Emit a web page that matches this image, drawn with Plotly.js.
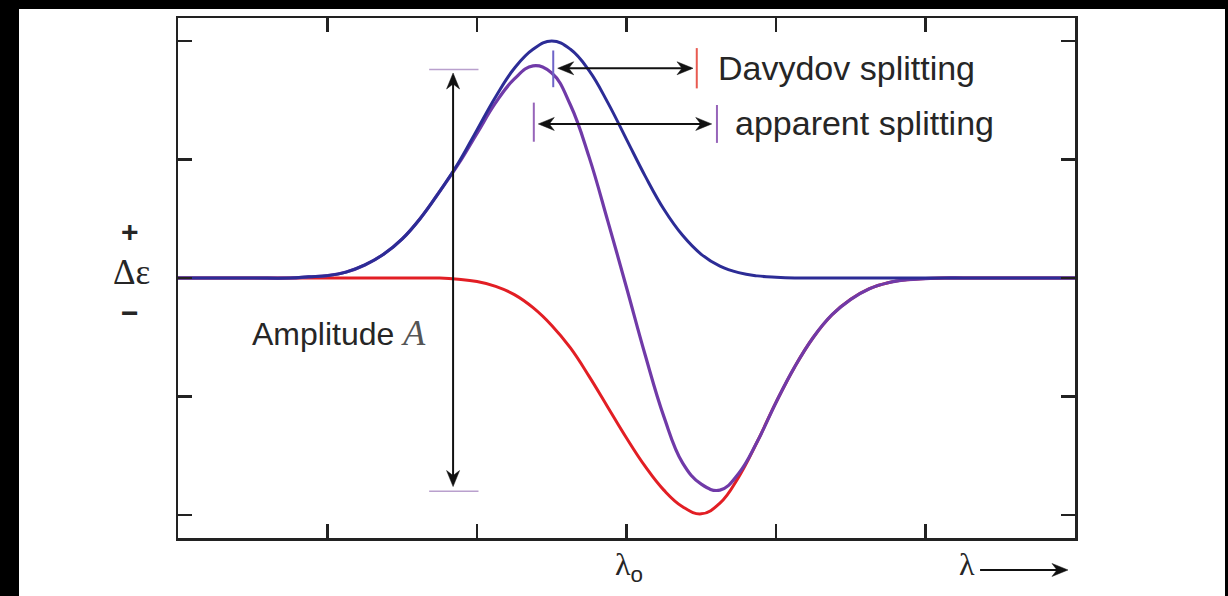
<!DOCTYPE html>
<html>
<head>
<meta charset="utf-8">
<script src="https://cdn.plot.ly/plotly-3.0.1.min.js"></script>
<style>
  html, body { margin: 0; padding: 0; background: #000; width: 1228px; height: 596px; overflow: hidden; }
  #chart { position: absolute; left: 19px; top: 9px; width: 1206px; height: 587px; background: #fff; }
</style>
</head>
<body>
<div id="chart"></div>
<script>
// Wavelength grid (arbitrary units, λ0 at 3)
const lambda = [0, 0.25, 0.5, 0.75, 0.875, 1.0, 1.125, 1.25, 1.375, 1.5, 1.625, 1.75, 1.875, 2.0,
  2.125, 2.25, 2.375, 2.5, 2.625, 2.75, 2.875, 3.0, 3.125, 3.25, 3.375, 3.5, 3.625, 3.75, 3.875,
  4.0, 4.125, 4.25, 4.375, 4.5, 4.625, 4.75, 4.875, 5.0, 5.125, 5.25, 5.5, 5.75, 6.0];

// Positive exciton band
const bandPlus = [0, 0, 0, 0, 0.01, 0.02, 0.05, 0.11, 0.2, 0.33, 0.51, 0.73, 0.97, 1.25,
  1.53, 1.77, 1.93, 2.0, 1.93, 1.75, 1.48, 1.17, 0.86, 0.58, 0.36, 0.2, 0.1, 0.045, 0.018,
  0.006, 0, 0, 0, 0, 0, 0, 0, 0, 0, 0, 0, 0, 0];

// Negative exciton band
const bandMinus = [0, 0, 0, 0, 0, 0, 0, 0, 0, 0, 0, 0, -0.01, -0.03,
  -0.07, -0.14, -0.25, -0.4, -0.59, -0.83, -1.09, -1.35, -1.59, -1.79, -1.93, -1.99, -1.9, -1.68, -1.38,
  -1.05, -0.75, -0.5, -0.31, -0.18, -0.09, -0.04, -0.015, -0.005, 0, 0, 0, 0, 0];

// Observed couplet
const couplet = [0, 0, 0, 0, 0.01, 0.02, 0.05, 0.11, 0.2, 0.33, 0.51, 0.73, 0.96, 1.22,
  1.48, 1.68, 1.79, 1.73, 1.46, 1.02, 0.48, -0.08, -0.65, -1.17, -1.56, -1.74, -1.79, -1.65, -1.38,
  -1.05, -0.75, -0.5, -0.31, -0.18, -0.09, -0.04, -0.015, -0.005, 0, 0, 0, 0, 0];

// Band extrema and couplet extrema (λ, Δε)
const plusPeakX = 2.51, minusPeakX = 3.47;
const coupletMaxX = 2.38, coupletMinX = 3.605;
const coupletMax = 1.76, coupletMin = -1.8;

const lambdaTicks = [1, 2, 3, 4, 5];
const epsTicks = [-2, -1, 0, 1, 2];

const ink = '#262626';
const arrowInk = '#111';
const cBlue = 'rgb(44,44,150)';
const cRed = 'rgb(226,30,36)';
const cPurple = 'rgb(112,58,168)';

const traces = [
  { x: lambda, y: bandMinus, mode: 'lines', line: { color: cRed, width: 3, shape: 'spline', smoothing: 1.2 }, hoverinfo: 'skip' },
  { x: lambda, y: couplet, mode: 'lines', line: { color: cPurple, width: 3.2, shape: 'spline', smoothing: 1.2 }, hoverinfo: 'skip' },
  { x: lambda, y: bandPlus, mode: 'lines', line: { color: cBlue, width: 3, shape: 'spline', smoothing: 1.2 }, hoverinfo: 'skip' }
];

function vtick(x, y0, y1, color) {
  return { type: 'line', xref: 'x', yref: 'y', x0: x, x1: x, y0: y0, y1: y1, line: { color: color, width: 2 } };
}
function hmark(y, x0, x1) {
  return { type: 'line', xref: 'x', yref: 'y', x0: x0, x1: x1, y0: y, y1: y, line: { color: 'rgb(185,160,205)', width: 1.5 } };
}

// Notched arrowhead, sized in screen pixels, tip anchored at (x, y)
const headPaths = {
  right: 'M0,0 L-16,6.5 L-11,0 L-16,-6.5 Z',
  left: 'M0,0 L16,6.5 L11,0 L16,-6.5 Z',
  up: 'M0,0 L-6.5,-16 L0,-11 L6.5,-16 Z',
  down: 'M0,0 L-6.5,16 L0,11 L6.5,16 Z'
};
function head(x, y, dir, yref) {
  return { type: 'path', xref: 'x', yref: yref || 'y', xsizemode: 'pixel', ysizemode: 'pixel',
    xanchor: x, yanchor: y, path: headPaths[dir], fillcolor: arrowInk, line: { color: arrowInk, width: 0.5 } };
}
function shaft(x0, y0, x1, y1, yref) {
  return { type: 'line', xref: 'x', yref: yref || 'y', x0: x0, y0: y0, x1: x1, y1: y1, line: { color: arrowInk, width: 2 } };
}

const shapes = [
  vtick(plusPeakX, 1.61, 1.92, 'rgb(110,100,200)'),
  vtick(minusPeakX, 1.6, 1.94, 'rgb(232,90,80)'),
  vtick(coupletMaxX, 1.15, 1.48, 'rgb(150,100,185)'),
  vtick(coupletMinX, 1.14, 1.46, 'rgb(150,100,185)'),
  hmark(coupletMax, 1.68, 2.01),
  hmark(coupletMin, 1.68, 2.01),
  // Davydov splitting arrow
  shaft(2.56, 1.77, 3.43, 1.77), head(2.54, 1.77, 'left'), head(3.445, 1.77, 'right'),
  // apparent splitting arrow
  shaft(2.43, 1.30, 3.55, 1.30), head(2.41, 1.30, 'left'), head(3.57, 1.30, 'right'),
  // amplitude arrow
  shaft(1.84, 1.70, 1.84, -1.73), head(1.84, 1.73, 'up'), head(1.84, -1.76, 'down'),
  // wavelength direction arrow
  shaft(5.365, -0.0615, 5.93, -0.0615, 'paper'), head(5.953, -0.0615, 'right', 'paper')
];

function label(text, x, y, size, family, xanchor) {
  return { xref: 'x', yref: 'y', x: x, y: y, text: text, showarrow: false, xanchor: xanchor || 'center', yanchor: 'middle',
    font: { family: family, size: size, color: ink } };
}
function outerLabel(text, x, y, size, family, xanchor) {
  return { xref: 'paper', yref: 'paper', x: x, y: y, text: text, showarrow: false, xanchor: xanchor || 'center', yanchor: 'middle',
    font: { family: family, size: size, color: ink } };
}

const sans = 'Liberation Sans, Arial, sans-serif';
const serif = 'Liberation Serif, Times New Roman, serif';

const annotations = [
  label('Davydov splitting', 3.6, 1.77, 34, sans, 'left'),
  label('apparent splitting', 3.712, 1.31, 34, sans, 'left'),
  label('Amplitude <span style="font-family:Liberation Serif;font-style:italic;font-size:36px;color:#555">A</span>', 0.482, -0.46, 32, sans, 'left'),
  outerLabel('<b>+</b>', -0.0535, 0.589, 30, sans),
  outerLabel('Δε', -0.0513, 0.5115, 35, serif),
  outerLabel('<b>−</b>', -0.0535, 0.4327, 30, sans),
  outerLabel('λ<sub><span style="font-family:Liberation Sans">o</span></sub>', 0.4855, -0.055, 32, serif, 'left'),
  outerLabel('λ', 0.8796, -0.0495, 32, serif)
];

const axisStyle = {
  showgrid: false, zeroline: false, showline: true, mirror: 'ticks', linecolor: '#222', linewidth: 2.5,
  ticks: 'inside', ticklen: 14, tickwidth: 2.5, tickcolor: '#222', showticklabels: false, fixedrange: true
};

const layout = {
  width: 1206, height: 587,
  margin: { l: 159, r: 150, t: 9, b: 58, pad: 0 },
  paper_bgcolor: '#fff', plot_bgcolor: '#fff',
  showlegend: false,
  xaxis: Object.assign({}, axisStyle, { range: [0, 6], tickmode: 'array', tickvals: lambdaTicks }),
  yaxis: Object.assign({}, axisStyle, { range: [-2.194, 2.194], tickmode: 'array', tickvals: epsTicks }),
  shapes: shapes,
  annotations: annotations
};

Plotly.newPlot('chart', traces, layout, { displayModeBar: false, staticPlot: true });
</script>
</body>
</html>
